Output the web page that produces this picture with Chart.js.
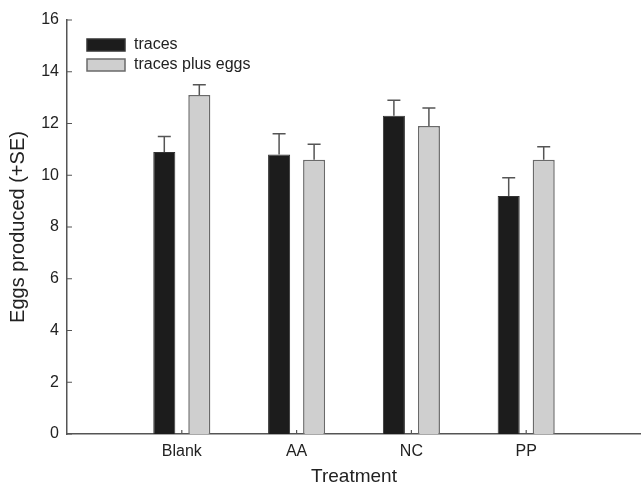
<!DOCTYPE html>
<html>
<head>
<meta charset="utf-8">
<script src="https://cdn.jsdelivr.net/npm/chart.js@4/dist/chart.umd.min.js"></script>
<style>
  body { margin: 0; background: #fff; }
</style>
</head>
<body>
<canvas id="eggChart" width="641" height="496"></canvas>
<script>
// data
const categories = ["Blank", "AA", "NC", "PP"];
const traces = [10.9, 10.8, 12.3, 9.2];
const tracesSE = [0.6, 0.8, 0.6, 0.7];
const plusEggs = [13.1, 10.6, 11.9, 10.6];
const plusEggsSE = [0.4, 0.6, 0.7, 0.5];
const seriesNames = ["traces", "traces plus eggs"];

const FONT = "'Liberation Sans', Arial, sans-serif";
const AXIS = "#555";

// empty slot on each side so the groups sit where the original puts them
const labels = ["", ...categories, ""];
const pad = arr => [null, ...arr, null];

// error bars, upward only
const errorBars = {
  id: "errorBars",
  afterDatasetsDraw(chart) {
    const ctx = chart.ctx;
    const y = chart.scales.y;
    ctx.save();
    ctx.strokeStyle = AXIS;
    ctx.lineWidth = 1.5;
    chart.data.datasets.forEach((ds, i) => {
      const meta = chart.getDatasetMeta(i);
      meta.data.forEach((bar, j) => {
        const v = ds.data[j];
        if (v == null) return;
        const top = y.getPixelForValue(v + ds.errors[j]);
        const base = y.getPixelForValue(v);
        ctx.beginPath();
        ctx.moveTo(bar.x, base);
        ctx.lineTo(bar.x, top);
        ctx.moveTo(bar.x - 6.5, top);
        ctx.lineTo(bar.x + 6.5, top);
        ctx.stroke();
      });
    });
    ctx.restore();
  }
};

// tick marks point into the plot
const innerTicks = {
  id: "innerTicks",
  afterDraw(chart) {
    const ctx = chart.ctx;
    const area = chart.chartArea;
    const x = chart.scales.x, y = chart.scales.y;
    ctx.save();
    ctx.strokeStyle = AXIS;
    ctx.lineWidth = 1.2;
    ctx.beginPath();
    y.ticks.forEach((t, i) => {
      const py = y.getPixelForTick(i);
      ctx.moveTo(area.left, py);
      ctx.lineTo(area.left + 5, py);
    });
    categories.forEach(c => {
      const px = x.getPixelForValue(labels.indexOf(c));
      ctx.moveTo(px, area.bottom);
      ctx.lineTo(px, area.bottom - 4);
    });
    ctx.stroke();
    ctx.restore();
  }
};

// legend box in the upper left of the plot
const boxLegend = {
  id: "boxLegend",
  afterDraw(chart) {
    const ctx = chart.ctx;
    ctx.save();
    ctx.font = "16px " + FONT;
    ctx.textBaseline = "middle";
    chart.data.datasets.forEach((ds, i) => {
      const top = 39 + i * 20;
      ctx.fillStyle = ds.backgroundColor;
      ctx.fillRect(87, top, 38, 12);
      ctx.strokeStyle = ds.borderColor;
      ctx.lineWidth = 1.5;
      ctx.strokeRect(87, top, 38, 12);
      ctx.fillStyle = "#222";
      ctx.fillText(ds.label, 134, top + 6);
    });
    ctx.restore();
  }
};

const chartData = {
  labels: labels,
  datasets: [{
    label: seriesNames[0],
    data: pad(traces),
    errors: pad(tracesSE),
    backgroundColor: "#1c1c1c",
    borderColor: "#333",
    borderWidth: 1
  }, {
    label: seriesNames[1],
    data: pad(plusEggs),
    errors: pad(plusEggsSE),
    backgroundColor: "#cfcfcf",
    borderColor: "#6a6a6a",
    borderWidth: 1.5
  }]
};

new Chart(document.getElementById("eggChart").getContext("2d"), {
  type: "bar",
  data: chartData,
  plugins: [errorBars, innerTicks, boxLegend],
  options: {
    responsive: false,
    animation: false,
    layout: { padding: { top: 20, right: -4, left: 0, bottom: 0 } },
    categoryPercentage: 0.61,
    barPercentage: 0.63,
    plugins: {
      legend: { display: false },
      tooltip: { enabled: false }
    },
    scales: {
      x: {
        offset: false,
        grid: { display: false, drawTicks: false },
        border: { display: true, color: AXIS, width: 1.5 },
        ticks: {
          padding: 8,
          color: "#222",
          font: { family: FONT, size: 16 },
          maxRotation: 0,
          autoSkip: false
        },
        title: {
          display: true,
          text: "Treatment",
          color: "#222",
          font: { family: FONT, size: 19 },
          padding: { top: 0, bottom: 8 }
        },
        afterFit(scale) {
          scale.height = 62;
          scale.paddingLeft = 0;
          scale.paddingRight = 0;
        }
      },
      y: {
        min: 0,
        max: 16,
        grid: { display: false, drawTicks: false },
        border: { display: true, color: AXIS, width: 1.5 },
        ticks: {
          stepSize: 2,
          padding: 8,
          color: "#222",
          font: { family: FONT, size: 16 }
        },
        title: {
          display: true,
          text: "Eggs produced (+SE)",
          color: "#222",
          font: { family: FONT, size: 20 },
          padding: { top: 6, bottom: 0 }
        },
        afterFit(scale) { scale.width = 67; }
      }
    }
  }
});
</script>
</body>
</html>
